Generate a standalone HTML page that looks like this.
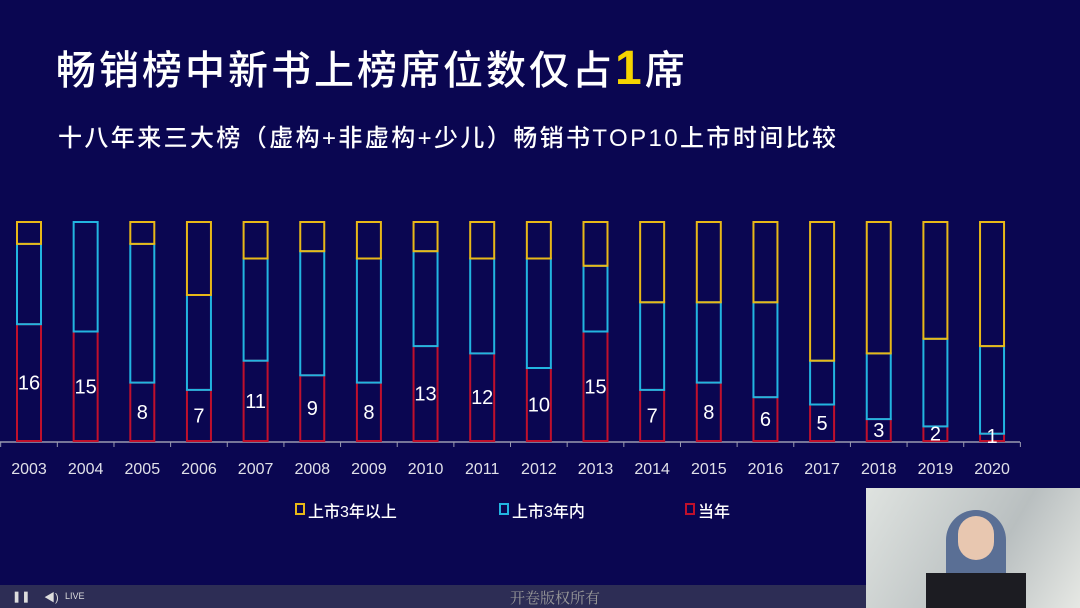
<!DOCTYPE html>
<html><head><meta charset="utf-8">
<style>
body{margin:0;width:1080px;height:608px;overflow:hidden;background:#0a0651;font-family:"Liberation Sans","Noto Sans CJK SC",sans-serif;}
#wrap{position:relative;width:1080px;height:608px;}
.t1{position:absolute;left:56px;top:38px;color:#fff;font-size:40px;font-weight:500;letter-spacing:3px;white-space:nowrap;}
.t1 b{color:#f5d400;font-size:48px;}
.t2{position:absolute;left:58px;top:118px;color:#fff;font-size:24px;font-weight:500;letter-spacing:2.4px;white-space:nowrap;}
.bar{position:absolute;left:0;top:585px;width:1080px;height:23px;background:#2d2d55;}
.cam{position:absolute;left:866px;top:488px;width:214px;height:120px;background:linear-gradient(120deg,#dfe3e0,#b9bfc0 60%,#e6e8e4);}
</style></head><body>
<div id="wrap">
<div class="t1">畅销榜中新书上榜席位数仅占<b>1</b>席</div>
<div class="t2">十八年来三大榜（虚构+非虚构+少儿）畅销书TOP10上市时间比较</div>
<svg id="chart" width="1080" height="608" style="position:absolute;left:0;top:0"></svg>
<div class="bar">
<span style="position:absolute;left:12px;top:5px;color:#ddd;font-size:11px">❚❚</span>
<span style="position:absolute;left:44px;top:4px;color:#ddd;font-size:11px">◀)</span>
<span style="position:absolute;left:65px;top:6px;color:#ddd;font-size:9px">LIVE</span>
<span style="position:absolute;left:510px;top:2px;color:#999;font-size:15px;font-family:'Noto Serif CJK SC',serif">开卷版权所有</span>
</div>
<div class="cam">
<div style="position:absolute;left:80px;top:22px;width:60px;height:90px;background:#5a6f95;border-radius:30px 30px 8px 8px"></div>
<div style="position:absolute;left:92px;top:28px;width:36px;height:44px;background:#e8c7b0;border-radius:18px"></div>
<div style="position:absolute;left:60px;top:85px;width:100px;height:35px;background:#1c1c22"></div>
</div>
</div>
<script>
const years=["2003","2004","2005","2006","2007","2008","2009","2010","2011","2012","2013","2014","2015","2016","2017","2018","2019","2020"];
const thisYear=[16,15,8,7,11,9,8,13,12,10,15,7,8,6,5,3,2,1];
const within3=[11,15,19,13,14,17,17,13,13,15,9,12,11,13,6,9,12,12];
const over3=[3,0,3,10,5,4,5,4,5,5,6,11,11,11,19,18,16,17];
const NS="http://www.w3.org/2000/svg";
const svg=document.getElementById('chart');
const x0=29,step=56.65,bw=24,yBase=441,yTop=222,total=30;
const xs=i=>x0+i*step;
const ys=v=>yBase-v*(yBase-yTop)/total;
function mk(t,a){const e=document.createElementNS(NS,t);for(const k in a)e.setAttribute(k,a[k]);svg.appendChild(e);return e;}
const ax=mk('line',{x1:0,x2:1020,y1:442,y2:442,stroke:'#9a9ab0','stroke-width':1.5});


for(let i=0;i<=18;i++){const tx=x0-step/2+i*step;const t=mk('line',{x1:tx,x2:tx,y1:442,y2:447,stroke:'#9a9ab0'});

}
const cols=['#c0102c','#22b4e0','#e8b818'];
years.forEach((yr,i)=>{
  const segs=[thisYear[i],within3[i],over3[i]];let acc=0;
  segs.forEach((v,k)=>{
    if(v>0){const r=mk('rect',{x:xs(i)-bw/2,y:ys(acc+v),width:bw,height:ys(acc)-ys(acc+v),fill:'none',stroke:cols[k],'stroke-width':2});
    
    }
    acc+=v;
  });
  const ly=Math.min((ys(0)+ys(thisYear[i]))/2+7,yBase+2);
  const l=mk('text',{x:xs(i),y:ly,fill:'#fff','font-size':20,'text-anchor':'middle'});l.textContent=thisYear[i];
  
  
  const xl=mk('text',{x:xs(i),y:474,fill:'#e0e0e8','font-size':16,'text-anchor':'middle'});xl.textContent=yr;
  
  
});
const legend=[["上市3年以上",'#e8b818',296],["上市3年内",'#22b4e0',500],["当年",'#c0102c',686]];
legend.forEach(([n,c,x])=>{
  const r=mk('rect',{x:x,y:504,width:8,height:10,fill:'none',stroke:c,'stroke-width':2});
  
  
  const t=mk('text',{x:x+12,y:517,fill:'#fff','font-size':16,'font-weight':'500'});t.textContent=n;
  
  
});
</script>
</body></html>
